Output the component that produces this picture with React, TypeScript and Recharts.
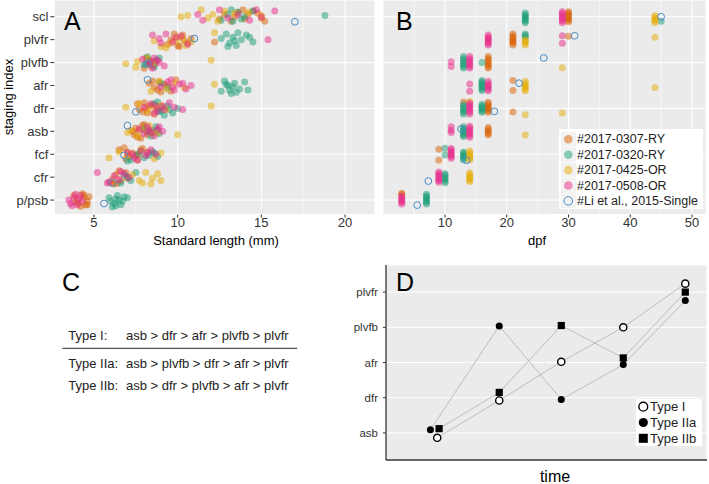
import React from "react";
import { CartesianGrid, ReferenceLine, Scatter, ScatterChart, XAxis, YAxis } from "recharts";

type Pt = [number, number];

// staging index, bottom to top
const STAGES = ["p/psb", "cfr", "fcf", "asb", "dfr", "afr", "plvfb", "plvfr", "scl"];
const STAGE_TICKS = [1, 2, 3, 4, 5, 6, 7, 8, 9];
const BATCHES = ["#2017-0307-RY", "#2017-0320-RY", "#2017-0425-OR", "#2017-0508-OR", "#Li et al., 2015-Single"];
const COLORS = ["#D95F02", "#1B9E77", "#E6AB02", "#E7298A", "#4A8CC4"];

const LEN_TICKS = [5, 10, 15, 20];
const LEN_MINOR = [7.5, 12.5, 17.5];
const DPF_TICKS = [10, 20, 30, 40, 50];
const DPF_MINOR = [5, 15, 25, 35, 45];

// A: standard length (mm) vs stage (jittered)
const LEN_0307: Pt[] = [
  [3.8, 1.2], [4.1, 0.85], [4.4, 1.1], [4.6, 0.95], [4.3, 1.28], [4.0, 1.0], [4.5, 0.78], [3.9, 0.9], [4.7, 1.15], [4.2, 0.72], [4.4, 1.22], [4.6, 0.8],
  [6.0, 1.75], [6.3, 2.1], [6.6, 1.85], [6.9, 2.2], [6.2, 1.7], [7.0, 1.95], [6.5, 2.28], [6.1, 1.9], [6.4, 1.72],
  [6.5, 3.2], [6.9, 2.8], [7.3, 3.05], [7.6, 2.75], [7.9, 3.25], [7.1, 2.9], [8.2, 3.1], [6.8, 3.28], [7.5, 2.95], [7.0, 3.1], [7.7, 3.0],
  [7.3, 4.0], [7.6, 3.75], [7.9, 4.25], [8.2, 3.85], [7.5, 4.15], [8.5, 4.05], [7.8, 3.7], [8.0, 4.3], [7.4, 3.85], [7.7, 4.05], [8.1, 4.0],
  [7.6, 5.2], [7.9, 4.85], [8.3, 5.1], [8.6, 4.75], [8.0, 5.25], [8.8, 5.0], [7.7, 4.95], [8.2, 4.8], [8.1, 5.0], [8.5, 5.15],
  [8.5, 6.2], [8.8, 5.8], [9.2, 6.05], [9.6, 5.75], [8.6, 5.9], [9.9, 6.25], [8.3, 6.1], [9.0, 5.72], [9.4, 6.0], [8.9, 6.15],
  [8.1, 7.2], [8.4, 6.85], [8.7, 7.05], [8.0, 6.75], [8.3, 7.0], [8.6, 6.9],
  [9.6, 8.0], [10.0, 7.75], [10.3, 8.2], [10.6, 7.85], [9.8, 8.25], [10.8, 8.05], [10.1, 7.7], [12.2, 7.9], [10.4, 7.95], [9.4, 7.8],
  [12.8, 9.1], [13.2, 8.8], [13.6, 9.2], [14.0, 8.9], [14.5, 9.25], [15.0, 8.95], [14.8, 9.15], [13.9, 9.3], [15.2, 8.8], [13.4, 9.0], [14.2, 9.1], [12.5, 8.9],
];
const LEN_0320: Pt[] = [
  [5.9, 1.1], [6.2, 0.85], [6.5, 1.0], [6.8, 1.15], [6.3, 0.75], [6.0, 0.95], [6.6, 0.8], [7.0, 1.1], [6.4, 1.2], [6.1, 0.7], [6.7, 0.95], [6.3, 1.05],
  [6.8, 2.1], [7.2, 1.85], [7.5, 2.2], [6.6, 1.75], [7.0, 2.0],
  [7.2, 2.75], [7.6, 3.0], [8.0, 2.85], [8.5, 3.1], [8.8, 2.9], [7.0, 2.7], [7.8, 3.15], [8.3, 2.95], [8.6, 3.05],
  [8.0, 4.1], [8.4, 3.8], [8.7, 4.2], [8.9, 3.9], [8.3, 4.0], [8.5, 3.95], [8.1, 4.15], [8.8, 4.05],
  [8.6, 5.2], [9.0, 4.9], [9.4, 5.1], [9.7, 4.8], [10.0, 5.0], [9.2, 4.7], [8.8, 5.28], [9.1, 5.05], [9.5, 4.95], [8.9, 4.85],
  [9.0, 6.1], [9.4, 5.9], [12.6, 5.75], [12.9, 6.05], [13.1, 5.8], [13.3, 5.95], [13.5, 5.7], [13.7, 5.85], [14.0, 6.15], [14.2, 5.8], [12.8, 6.2], [13.2, 5.65], [13.0, 6.0], [13.4, 6.1],
  [8.0, 6.9], [8.3, 7.1], [8.6, 6.8], [8.9, 7.2], [8.2, 7.25], [8.4, 7.0], [8.7, 7.1], [8.1, 6.95],
  [12.6, 8.05], [12.9, 8.25], [13.1, 7.85], [13.3, 8.1], [13.5, 7.75], [13.8, 8.0], [14.1, 8.2], [14.5, 7.9], [13.0, 7.7], [13.6, 8.3], [13.4, 7.95], [14.3, 8.1],
  [12.6, 8.85], [13.0, 9.1], [13.3, 8.8], [13.6, 9.2], [14.0, 9.0], [14.5, 9.25], [13.2, 9.3], [13.8, 8.9], [18.8, 9.05],
];
const LEN_0425: Pt[] = [
  [7.3, 2.1], [7.7, 1.85], [8.1, 2.2], [8.5, 1.95], [8.8, 2.15], [9.0, 1.85], [8.4, 1.7], [7.9, 1.75],
  [5.9, 2.85], [6.5, 3.1], [7.0, 2.95], [7.8, 3.2], [8.6, 2.8], [9.0, 3.05],
  [7.2, 4.05], [7.6, 3.8], [8.3, 4.25], [8.8, 3.95], [10.0, 3.85], [7.0, 3.95], [8.0, 4.1], [8.5, 3.9],
  [6.9, 5.05], [7.7, 5.2], [8.2, 4.9], [9.0, 5.15], [12.0, 5.1], [8.6, 5.05], [9.3, 4.95],
  [8.4, 5.75], [8.9, 6.2], [9.3, 5.85], [9.8, 6.1], [12.2, 6.05], [10.4, 5.9],
  [6.9, 6.95], [7.5, 6.8], [7.6, 7.05], [8.2, 7.2], [12.0, 7.1], [8.5, 7.0],
  [8.6, 7.95], [9.0, 7.7], [9.6, 7.85], [10.0, 8.1], [10.5, 7.75], [10.8, 7.9], [9.3, 7.65], [12.2, 8.3], [9.9, 7.95], [10.3, 8.05],
  [10.2, 9.0], [10.6, 9.05], [11.4, 9.3], [12.1, 9.1], [12.8, 9.25], [13.4, 9.15], [14.2, 9.2], [15.0, 9.05], [11.8, 8.95], [12.4, 8.8],
];
const LEN_0508: Pt[] = [
  [3.5, 1.0], [3.8, 1.1], [4.0, 0.8], [4.2, 1.2], [3.6, 0.85], [3.9, 1.25], [4.3, 0.95], [3.7, 0.75], [4.1, 1.05],
  [5.2, 2.2], [5.9, 1.8], [6.2, 2.05], [6.5, 1.9], [6.8, 2.15], [7.1, 2.0], [5.8, 1.75], [6.6, 2.25],
  [7.0, 3.05], [7.4, 2.85], [7.8, 3.15], [8.1, 2.95], [8.4, 3.2], [8.7, 3.0], [7.6, 2.75], [8.2, 3.05], [7.3, 3.0],
  [7.7, 4.1], [8.0, 3.9], [8.3, 4.05], [8.6, 3.8], [8.9, 4.2], [9.1, 4.0], [8.4, 3.95], [8.8, 4.1], [8.2, 4.2],
  [8.0, 5.05], [8.4, 5.2], [8.8, 4.9], [9.1, 5.1], [9.5, 5.25], [10.3, 4.95], [8.6, 4.8], [9.2, 4.95], [8.7, 5.1], [9.8, 5.05],
  [9.0, 5.95], [9.4, 6.15], [9.8, 5.8], [10.1, 6.05], [10.5, 5.85], [10.8, 6.0], [9.6, 6.25], [10.3, 6.1], [9.7, 5.95],
  [7.9, 7.15], [8.3, 6.95], [8.6, 7.2], [8.9, 7.0], [9.2, 6.85], [8.5, 6.75], [8.8, 7.1], [8.4, 7.05],
  [8.5, 8.2], [8.9, 8.05], [9.3, 8.25], [9.7, 7.9], [10.2, 8.15], [10.6, 7.8], [15.4, 8.0], [9.0, 7.85], [9.9, 8.1],
  [11.2, 9.1], [11.5, 8.85], [12.5, 9.3], [13.0, 8.95], [13.6, 9.1], [14.3, 8.85], [15.0, 9.0], [15.8, 9.25], [14.7, 9.3],
];
const LEN_LI: Pt[] = [
  [5.6, 0.85], [6.1, 1.75], [6.8, 2.95], [7.0, 4.25], [7.5, 4.85], [8.2, 6.25], [8.2, 6.95], [11.0, 8.05], [17.0, 8.78],
];

// B: days post fertilization vs stage (jittered vertically)
const DPF_0307: Pt[] = [
  [30, 8.78], [30, 8.85], [30, 8.92], [30, 9.0], [30, 9.08], [30, 9.15], [30, 9.22],
  [21, 7.77], [21, 7.85], [21, 7.93], [21, 8.0], [21, 8.08], [21, 8.16], [21, 8.25], [30, 8.15],
  [17, 6.76], [17, 6.84], [17, 6.92], [17, 7.0], [17, 7.08], [17, 7.17], [17, 7.26],
  [21, 6.22], [21, 5.78],
  [13, 5.28], [17, 4.83], [17, 4.9], [17, 4.97], [17, 5.04], [17, 5.11], [17, 5.19], [17, 5.27], [21, 4.84],
  [17, 3.85], [17, 3.92], [17, 4.0], [17, 4.08], [17, 4.17],
  [9, 3.22], [9, 2.74],
  [3, 1.3], [3, 1.24],
];
const DPF_0320: Pt[] = [
  [23, 8.74], [23, 8.81], [23, 8.88], [23, 8.95], [23, 9.02], [23, 9.09], [23, 9.16], [45, 8.8],
  [23, 8.1], [23, 8.18], [23, 8.25],
  [13, 6.76], [13, 6.84], [13, 6.92], [13, 7.0], [13, 7.08], [13, 7.17], [13, 7.26], [16, 7.0],
  [16, 5.78], [16, 5.85], [16, 5.93], [16, 6.0], [16, 6.07], [16, 6.15], [16, 6.22],
  [13, 4.76], [13, 4.84], [13, 4.92], [13, 5.0], [13, 5.08], [13, 5.16],
  [16, 4.83], [16, 4.9], [16, 4.97], [16, 5.04], [16, 5.11], [16, 5.18],
  [13, 3.77], [13, 3.84], [13, 3.91], [13, 3.98], [13, 4.05], [13, 4.12], [13, 4.2],
  [10, 3.26], [10, 2.97],
  [13, 2.75], [13, 2.82], [13, 2.89], [13, 2.96], [13, 3.03], [13, 3.1],
  [10, 1.76], [10, 1.84], [10, 1.92], [10, 2.0], [10, 2.08], [10, 2.15],
  [7, 0.83], [7, 0.9], [7, 0.97], [7, 1.04], [7, 1.11], [7, 1.18], [7, 1.25],
];
const DPF_0425: Pt[] = [
  [44, 8.74], [44, 8.82], [44, 8.9], [44, 8.97], [44, 9.05],
  [23, 7.77], [23, 7.85], [23, 7.93], [23, 8.0], [44, 8.1],
  [29, 6.77],
  [23, 5.77], [23, 5.85], [23, 5.93], [23, 6.0], [23, 6.08], [23, 6.19], [44, 5.91],
  [14, 5.3], [23, 4.72], [29, 4.8],
  [23, 3.84],
  [14, 2.75], [14, 2.83], [14, 2.9], [14, 2.98], [14, 3.06], [14, 3.14],
  [14, 1.81], [14, 1.88], [14, 1.95], [14, 2.03], [14, 2.11], [14, 2.19],
];
const DPF_0508: Pt[] = [
  [29, 8.74], [29, 8.82], [29, 8.9], [29, 8.98], [29, 9.06], [29, 9.14], [29, 9.22],
  [17, 7.77], [17, 7.84], [17, 7.91], [17, 7.98], [17, 8.05], [17, 8.12], [17, 8.2], [29, 8.17], [29, 7.84],
  [11, 7.04], [11, 6.83], [14, 6.76], [14, 6.84], [14, 6.92], [14, 7.0], [14, 7.08], [14, 7.17], [14, 7.26],
  [14, 6.07], [14, 5.75], [17, 5.77], [17, 5.85], [17, 5.93], [17, 6.0], [17, 6.08], [17, 6.19],
  [14, 4.76], [14, 4.84], [14, 4.92], [14, 5.0], [14, 5.08], [14, 5.16], [14, 5.24],
  [11, 4.2], [11, 4.05], [11, 3.95],
  [14, 3.74], [14, 3.82], [14, 3.9], [14, 3.98], [14, 4.06], [14, 4.14], [14, 4.22],
  [11, 2.83], [11, 2.9], [11, 2.97], [11, 3.04], [11, 3.11], [11, 3.18], [11, 3.25],
  [9, 1.78], [9, 1.85], [9, 1.92], [9, 2.0], [9, 2.08], [9, 2.15], [9, 2.22],
  [3, 0.83], [3, 0.9], [3, 0.97], [3, 1.04], [3, 1.11], [3, 1.18],
];
const DPF_LI: Pt[] = [
  [45, 9.0], [31, 8.17], [26, 7.2], [22, 6.1], [18, 4.87], [12.6, 4.1], [13.5, 2.74], [7.3, 1.83], [5.5, 0.78],
];

// D: order of events over time
const D_STAGES = ["asb", "dfr", "afr", "plvfb", "plvfr"];
const D_TICKS = [1, 2, 3, 4, 5];
const TYPES = ["Type I", "Type IIa", "Type IIb"];
const TYPE_I: Pt[] = [[1, 0.86], [2, 1.92], [3, 3.02], [4, 4.0], [5, 5.24]];
const TYPE_IIA: Pt[] = [[0.89, 1.09], [2, 4.04], [3, 1.95], [4, 2.94], [5, 4.76]];
const TYPE_IIB: Pt[] = [[1.03, 1.12], [2, 2.15], [3, 4.05], [4, 3.13], [5, 5.0]];

// C: sequence table
const SEQ_ROWS = [
  ["Type I:", "asb > dfr > afr > plvfb > plvfr"],
  ["Type IIa:", "asb > plvfb > dfr > afr > plvfr"],
  ["Type IIb:", "asb > dfr > plvfb > afr > plvfr"],
];

const FONT = "'Liberation Sans', Arial, sans-serif";
const PANEL_BG = "#EBEBEB";
const TICK_TXT = "#333333";
const ALPHA = 0.5;

const toXY = (pts: Pt[]) => pts.map(([x, y]) => ({ x, y }));

const dot = (color: string) => (p: any) => (
  <circle cx={p.cx} cy={p.cy} r={3.5} fill={color} fillOpacity={ALPHA} />
);
const ring = (p: any) => (
  <circle cx={p.cx} cy={p.cy} r={3.4} fill="none" stroke={COLORS[4]} strokeWidth={1} />
);
const openDot = (p: any) => (
  <circle cx={p.cx} cy={p.cy} r={3.6} fill="#FFFFFF" stroke="#000" strokeWidth={1.4} />
);
const fullDot = (p: any) => <circle cx={p.cx} cy={p.cy} r={3.5} fill="#000" />;
const square = (p: any) => <rect x={p.cx - 3.6} y={p.cy - 3.6} width={7.2} height={7.2} fill="#000" />;

function JitterPanel({
  series, domain, ticks, minor, showY, width, yWidth,
}: {
  series: Pt[][]; domain: [number, number]; ticks: number[]; minor: number[];
  showY: boolean; width: number; yWidth: number;
}) {
  return (
    <ScatterChart width={width} height={232} margin={{ top: 0, right: 1, bottom: 0, left: 0 }}>
      <CartesianGrid fill={PANEL_BG} fillOpacity={1} stroke="#FFFFFF" strokeWidth={1} />
      {minor.map((v) => (
        <ReferenceLine key={v} x={v} stroke="#FFFFFF" strokeWidth={0.5} />
      ))}
      <XAxis
        type="number" dataKey="x" domain={domain} ticks={ticks} allowDataOverflow
        height={17.5} tickSize={3} tickMargin={0} axisLine={false}
        tickLine={{ stroke: TICK_TXT }} tick={{ fontSize: 13, fill: TICK_TXT, fontFamily: FONT }}
      />
      <YAxis
        type="number" dataKey="y" domain={[0.37, 9.73]} ticks={STAGE_TICKS} allowDataOverflow
        hide={!showY} width={yWidth} tickSize={4} tickMargin={2} axisLine={false}
        tickLine={{ stroke: TICK_TXT }} tickFormatter={(v) => STAGES[v - 1]}
        tick={{ fontSize: 13, fill: TICK_TXT, fontFamily: FONT }}
      />
      {series.slice(0, 4).map((s, i) => (
        <Scatter key={i} data={toXY(s)} shape={dot(COLORS[i])} isAnimationActive={false} />
      ))}
      <Scatter data={toXY(series[4])} shape={ring} isAnimationActive={false} />
    </ScatterChart>
  );
}

export default function App() {
  const lineStyle = { stroke: "#A8A8A8", strokeWidth: 0.7 };
  return (
    <div style={{ position: "absolute", left: 0, top: 0, width: 709, height: 484, background: "#fff", fontFamily: FONT }}>
      <div style={{ position: "absolute", left: 0, top: 0 }}>
        <JitterPanel
          series={[LEN_0307, LEN_0320, LEN_0425, LEN_0508, LEN_LI]}
          domain={[2.63, 21.79]} ticks={LEN_TICKS} minor={LEN_MINOR} showY width={376} yWidth={54.3}
        />
      </div>
      <div style={{ position: "absolute", left: 383, top: 0 }}>
        <JitterPanel
          series={[DPF_0307, DPF_0320, DPF_0425, DPF_0508, DPF_LI]}
          domain={[-0.04, 52.27]} ticks={DPF_TICKS} minor={DPF_MINOR} showY={false} width={324} yWidth={0}
        />
      </div>
      <div style={{ position: "absolute", left: 330, top: 265 }}>
        <ScatterChart width={378} height={201} margin={{ top: 0, right: 1, bottom: 0, left: 0 }}>
          <CartesianGrid fill={PANEL_BG} fillOpacity={1} stroke="#FFFFFF" strokeWidth={1} />
          <XAxis
            type="number" dataKey="x" domain={[0.174, 5.35]} ticks={D_TICKS} allowDataOverflow
            height={6} tickSize={3} tick={false} axisLine={{ stroke: "#333", strokeWidth: 1.3 }}
            tickLine={{ stroke: "#333" }}
          />
          <YAxis
            type="number" dataKey="y" domain={[0.23, 5.77]} ticks={D_TICKS} allowDataOverflow
            width={56} tickSize={3} tickMargin={5} axisLine={{ stroke: "#333", strokeWidth: 1.3 }}
            tickLine={{ stroke: "#333" }} tickFormatter={(v) => D_STAGES[v - 1]}
            tick={{ fontSize: 11.5, fill: TICK_TXT, fontFamily: FONT }}
          />
          <Scatter data={toXY(TYPE_I)} line={lineStyle} lineType="joint" shape={openDot} isAnimationActive={false} />
          <Scatter data={toXY(TYPE_IIA)} line={lineStyle} lineType="joint" shape={fullDot} isAnimationActive={false} />
          <Scatter data={toXY(TYPE_IIB)} line={lineStyle} lineType="joint" shape={square} isAnimationActive={false} />
        </ScatterChart>
      </div>

      <svg width={709} height={484} style={{ position: "absolute", left: 0, top: 0, pointerEvents: "none" }} fontFamily={FONT}>
        {/* panel letters */}
        <text x={64} y={30} fontSize={25}>A</text>
        <text x={396} y={30} fontSize={25}>B</text>
        <text x={62} y={291} fontSize={25}>C</text>
        <text x={396} y={291} fontSize={25}>D</text>

        {/* axis titles */}
        <text x={8} y={97} fontSize={13} textAnchor="middle" dominantBaseline="central" transform="rotate(-90 8 97)">staging index</text>
        <text x={216} y={240} fontSize={13} textAnchor="middle" dominantBaseline="central">Standard length (mm)</text>
        <text x={537} y={240} fontSize={13} textAnchor="middle" dominantBaseline="central">dpf</text>
        <text x={555} y={476} fontSize={16} textAnchor="middle" dominantBaseline="central">time</text>

        {/* B legend */}
        <rect x={559} y={129} width={144} height={80} fill="#FFFFFF" />
        {BATCHES.map((b, i) => {
          const cy = 139.3 + i * 15.4;
          return (
            <g key={b}>
              <rect x={561} y={cy - 7.5} width={15} height={15} fill="#F2F2F2" />
              {i < 4 ? (
                <circle cx={568.3} cy={cy} r={4.3} fill={COLORS[i]} fillOpacity={ALPHA} />
              ) : (
                <circle cx={568.3} cy={cy} r={4.3} fill="none" stroke={COLORS[4]} strokeWidth={1} />
              )}
              <text x={577} y={cy} fontSize={12.5} fill="#222" dominantBaseline="central">{b}</text>
            </g>
          );
        })}

        {/* C table */}
        {SEQ_ROWS.map(([label, seq], i) => {
          const y = [335, 363.3, 385][i];
          return (
            <g key={label}>
              <text x={68.3} y={y} fontSize={13} fill="#222" dominantBaseline="central">{label}</text>
              <text x={126} y={y} fontSize={13} fill="#222" dominantBaseline="central">{seq}</text>
            </g>
          );
        })}
        <line x1={62.3} x2={297.3} y1={348.3} y2={348.3} stroke="#555" strokeWidth={1.3} />

        {/* D legend */}
        <rect x={636} y={399} width={66} height={47} fill="#FFFFFF" />
        {TYPES.map((t, i) => {
          const cy = 406.7 + i * 15.8;
          return (
            <g key={t}>
              {i === 0 && <circle cx={643.3} cy={cy} r={4.4} fill="#fff" stroke="#000" strokeWidth={1.4} />}
              {i === 1 && <circle cx={643.3} cy={cy} r={4.6} fill="#000" />}
              {i === 2 && <rect x={638.8} y={cy - 4.5} width={9} height={9} fill="#000" />}
              <text x={650} y={cy} fontSize={13} fill="#222" dominantBaseline="central">{t}</text>
            </g>
          );
        })}
      </svg>
    </div>
  );
}
